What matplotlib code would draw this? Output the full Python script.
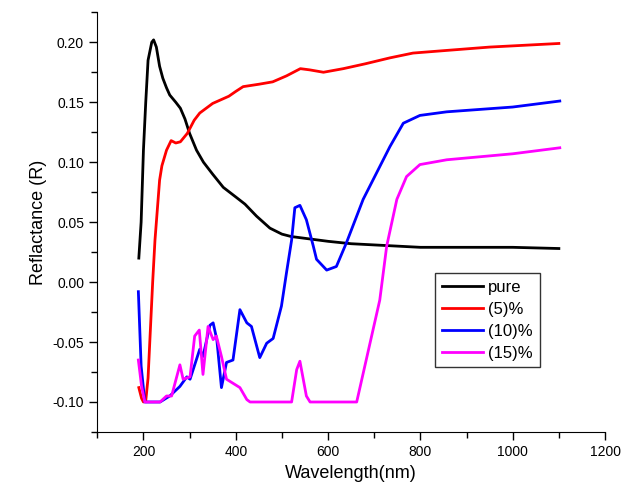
import matplotlib.pyplot as plt
from matplotlib.ticker import MultipleLocator, FormatStrFormatter

plt.rcParams['font.family'] = ['Liberation Sans', 'DejaVu Sans']

# pure sample
wl_pure = [190, 195, 200, 205, 210, 218, 222, 228, 235, 242, 250, 257, 270, 280,
           290, 300, 315, 330, 350, 373, 400, 420, 445, 474, 500, 520, 560, 600,
           650, 700, 750, 800, 900, 950, 1000, 1100]
r_pure = [0.020, 0.050, 0.110, 0.150, 0.185, 0.200, 0.202, 0.196, 0.180, 0.170,
          0.162, 0.156, 0.150, 0.145, 0.136, 0.124, 0.110, 0.100, 0.090, 0.079,
          0.071, 0.065, 0.055, 0.045, 0.040, 0.038, 0.036, 0.034, 0.032, 0.031,
          0.030, 0.029, 0.029, 0.029, 0.029, 0.028]

# (5)%
wl_5 = [190, 196, 200, 205, 210, 215, 220, 225, 230, 235, 240, 250, 260, 270,
        280, 295, 310, 322, 350, 385, 400, 416, 450, 480, 510, 540, 560, 590,
        633, 680, 734, 784, 850, 950, 1100]
r_5 = [-0.088, -0.097, -0.100, -0.099, -0.080, -0.040, 0.000, 0.035, 0.060,
       0.085, 0.097, 0.110, 0.118, 0.116, 0.117, 0.124, 0.135, 0.141, 0.149,
       0.155, 0.159, 0.163, 0.165, 0.167, 0.172, 0.178, 0.177, 0.175, 0.178,
       0.182, 0.187, 0.191, 0.193, 0.196, 0.199]

# (10)%
wl_10 = [189, 195, 203, 236, 257, 279, 294, 301, 322, 329, 344, 351, 359, 369,
         380, 387, 394, 409, 424, 434, 452, 467, 481, 499, 510, 521, 528, 539,
         553, 568, 575, 597, 618, 640, 676, 705, 734, 763, 799, 857, 1000, 1102]
r_10 = [-0.008, -0.070, -0.100, -0.100, -0.095, -0.087, -0.079, -0.081, -0.056,
        -0.062, -0.036, -0.034, -0.048, -0.088, -0.067, -0.066, -0.065, -0.023,
        -0.034, -0.037, -0.063, -0.051, -0.047, -0.020, 0.008, 0.035, 0.062,
        0.064, 0.052, 0.030, 0.019, 0.010, 0.013, 0.033, 0.069, 0.091, 0.113,
        0.1325, 0.139, 0.142, 0.146, 0.151]

# (15)%
wl_15 = [189, 196, 203, 236, 250, 261, 279, 286, 301, 311, 321, 329, 340, 351,
         358, 369, 380, 409, 424, 431, 521, 532, 539, 553, 561, 662, 712, 727,
         749, 770, 799, 857, 1000, 1102]
r_15 = [-0.065, -0.087, -0.100, -0.100, -0.095, -0.095, -0.069, -0.081, -0.079,
        -0.045, -0.040, -0.077, -0.037, -0.048, -0.045, -0.062, -0.081, -0.088,
        -0.098, -0.100, -0.100, -0.073, -0.066, -0.095, -0.100, -0.100, -0.015,
        0.030, 0.069, 0.088, 0.098, 0.102, 0.107, 0.112]

fig = plt.figure(figsize=(6.22, 4.92), dpi=100)
ax = fig.add_axes([0.1564, 0.122, 0.8163, 0.853])

ax.plot(wl_pure, r_pure, color='black', lw=2, label='pure')
ax.plot(wl_5, r_5, color='red', lw=2, label='(5)%')
ax.plot(wl_10, r_10, color='blue', lw=2, label='(10)%')
ax.plot(wl_15, r_15, color='magenta', lw=2, label='(15)%')

ax.set_xlim(100, 1200)
ax.set_ylim(-0.125, 0.225)
ax.xaxis.set_minor_locator(MultipleLocator(100))
ax.yaxis.set_minor_locator(MultipleLocator(0.025))
ax.yaxis.set_major_formatter(FormatStrFormatter('%.2f'))
ax.tick_params(which='major', direction='out', length=6, width=1, labelsize=10)
ax.tick_params(which='minor', direction='out', length=4, width=1)

# labelled ticks only where values are shown
ax.set_xticks([200, 400, 600, 800, 1000, 1200])
ax.set_yticks([-0.10, -0.05, 0.00, 0.05, 0.10, 0.15, 0.20])

for s in ['top', 'right']:
    ax.spines[s].set_visible(False)

ax.set_xlabel('Wavelength(nm)', fontsize=13)
ax.set_ylabel('Reflactance (R)', fontsize=13)

leg = ax.legend(loc='upper left', bbox_to_anchor=(0.665, 0.379), fontsize=12,
                fancybox=False, edgecolor='black', handlelength=2.5,
                handletextpad=0.3, borderpad=0.4, labelspacing=0.42,
                borderaxespad=0)
leg.get_frame().set_linewidth(1)

fig.savefig('out.png', dpi=100)
